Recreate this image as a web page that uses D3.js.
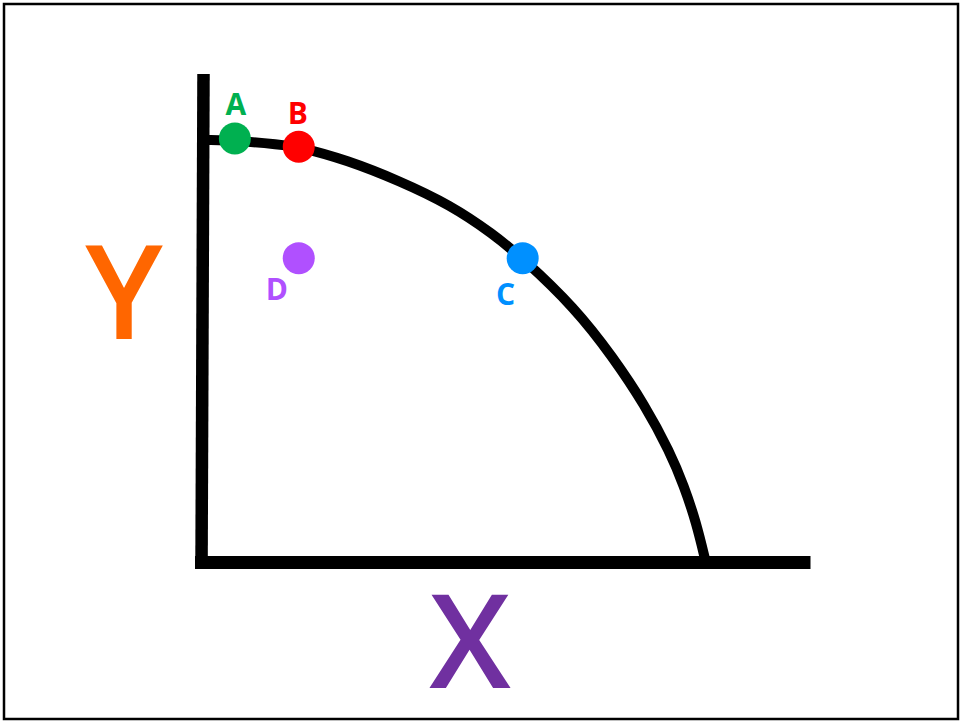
<!DOCTYPE html>
<html>
<head>
<meta charset="utf-8">
<script src="https://cdn.jsdelivr.net/npm/d3@7"></script>
<style>
html,body{margin:0;padding:0;background:#fff;}
svg{display:block;}
text{font-family:"Open Sans",sans-serif;}
</style>
</head>
<body>
<div id="chart"></div>
<script>
// Production possibilities frontier (data units 0-100)
const curveX = [0.5, 6.2, 12.5, 15.9, 23.8, 32.5, 40.8, 47.8, 52.7, 61.3, 67.5, 72.8, 76.9, 79.2, 81.2, 82.8];
const curveY = [86.5, 86.3, 85.6, 85.1, 82.4, 78.1, 73.2, 67.3, 62.3, 52.1, 42.1, 32.2, 22.6, 15.7, 8.3, 0.0];

const pointLabels = ["A", "B", "C", "D"];
const pointX = [5.4, 15.9, 52.7, 15.9];
const pointY = [86.8, 85.1, 62.3, 62.3];
const pointColors = ["#00b050", "#ff0000", "#0090ff", "#b050ff"];

const axisLabels = ["X", "Y"];

const W = 960, H = 721;
const svg = d3.select("#chart").append("svg").attr("width", W).attr("height", H);

// outer frame
svg.append("rect").attr("x", 4).attr("y", 4).attr("width", W - 6).attr("height", H - 6)
  .attr("fill", "#fff").attr("stroke", "#000").attr("stroke-width", 2.5);

const x = d3.scaleLinear().domain([0, 100]).range([202, 810.5]);
const y = d3.scaleLinear().domain([0, 100]).range([562.5, 74]);

const pts = curveX.map((v, i) => [v, curveY[i]]);
const line = d3.line().x(d => x(d[0])).y(d => y(d[1])).curve(d3.curveBasis);

svg.append("path").attr("d", line(pts)).attr("fill", "none")
  .attr("stroke", "#000").attr("stroke-width", 10);

// axes
const xAxis = d3.axisBottom(x).tickValues([]).tickSizeOuter(0);
const yAxis = d3.axisLeft(y).tickValues([]).tickSizeOuter(0);
const gx = svg.append("g").attr("transform", `translate(0,${y(0)})`).call(xAxis);
gx.select(".domain").attr("stroke", "#000").attr("stroke-width", 13)
  .attr("d", `M${x(0) - 7},0H${x(100)}`);
const gy = svg.append("g").attr("transform", `translate(${x(0)},0)`).call(yAxis);
gy.select(".domain").attr("stroke", "#000").attr("stroke-width", 12.5)
  .attr("d", `M1.5,${y(100)}L-0.5,${y(0) + 6.5}`);

// points
const pointData = pointLabels.map((l, i) => ({l, x: pointX[i], y: pointY[i], c: pointColors[i]}));
svg.selectAll("circle.pt").data(pointData).enter().append("circle")
  .attr("class", "pt")
  .attr("cx", d => x(d.x)).attr("cy", d => y(d.y)).attr("r", 16)
  .attr("fill", d => d.c);

// label offsets (px) relative to the point
const labelDx = [1, -1, -17, -22];
const labelDy = [-23, -23, 47, 42];
svg.selectAll("text.pl").data(pointData).enter().append("text")
  .attr("class", "pl")
  .attr("x", (d, i) => x(d.x) + labelDx[i]).attr("y", (d, i) => y(d.y) + labelDy[i])
  .attr("text-anchor", "middle").attr("font-size", 30).attr("font-weight", 700)
  .attr("fill", d => d.c).text(d => d.l);

// axis titles
svg.append("text").attr("x", 470).attr("y", 688).attr("text-anchor", "middle")
  .attr("font-size", 131).attr("font-weight", 600).attr("fill", "#7030a0").text(axisLabels[0]);
svg.append("text").attr("x", 124).attr("y", 339).attr("text-anchor", "middle")
  .attr("font-size", 131).attr("font-weight", 600).attr("fill", "#ff6600").text(axisLabels[1]);
</script>
</body>
</html>
